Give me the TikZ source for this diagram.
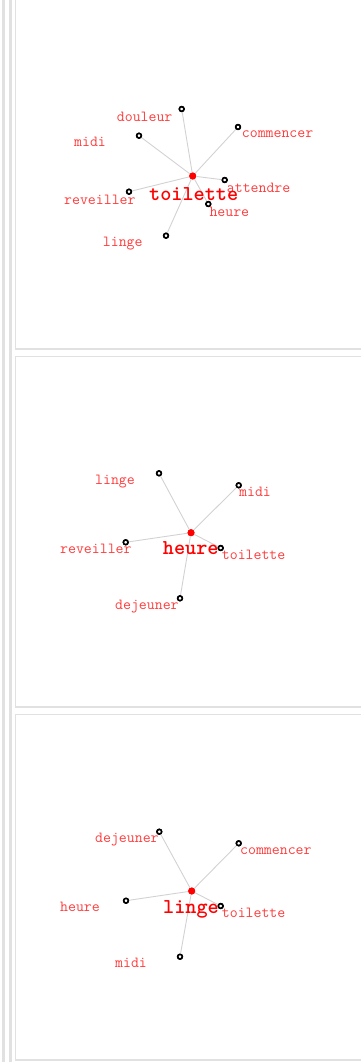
\documentclass[tikz,border=0pt]{standalone}
\definecolor{lblred}{RGB}{255,60,60}
\definecolor{ctrred}{RGB}{255,0,0}
\definecolor{edgegray}{RGB}{210,210,210}
\definecolor{framegray}{RGB}{225,225,225}
\begin{document}
\begin{tikzpicture}[x=1pt,y=-1pt,
  wnode/.style={circle,draw=black,fill=white,line width=1.6pt,minimum size=4.6pt,inner sep=0pt},
  cnode/.style={circle,fill=ctrred,minimum size=7pt,inner sep=0pt},
  lbl/.style={anchor=base west,inner sep=0pt,text=lblred,font=\ttfamily\fontsize{15.4}{16}\selectfont},
  clbl/.style={anchor=base west,inner sep=0pt,text=ctrred,font=\ttfamily\bfseries\fontsize{21.2}{22}\selectfont},
  link/.style={draw=edgegray,line width=0.9pt},
  frame/.style={draw=framegray,line width=1.6pt}]
\useasboundingbox (0,0) rectangle (360,1062);
% left bands and panel frames
\draw[framegray,line width=3pt] (3.5,-5) -- (3.5,1067);
\draw[framegray,line width=3pt] (10,-5) -- (10,1067);
\draw[frame] (370,349) -- (15.5,349) -- (15.5,-5);
\draw[frame] (370,356.5) -- (15.5,356.5) -- (15.5,707) -- (370,707);
\draw[frame] (370,714.5) -- (15.5,714.5) -- (15.5,1060) -- (370,1060);

% ---------- panel 1 ----------
\node[cnode] (c1) at (192.7,176) {};
\node[wnode] (p1a) at (181.7,109) {};
\node[wnode] (p1b) at (139,135.7) {};
\node[wnode] (p1c) at (238,127) {};
\node[wnode] (p1d) at (129,191.7) {};
\node[wnode] (p1e) at (224.7,180) {};
\node[wnode] (p1f) at (208.3,204) {};
\node[wnode] (p1g) at (166,235.7) {};
\foreach \n in {p1a,p1b,p1c,p1d,p1e,p1f,p1g} \draw[link] (c1) -- (\n);
\node[lbl] (l1a) at (116.7,121.3) {douleur};
\node[lbl] (l1b) at (74,146.3) {midi};
\node[lbl] (l1c) at (241.7,138) {commencer};
\node[lbl] (l1d) at (64,204) {reveiller};
\node[lbl] (l1e) at (226.7,192) {attendre};
\node[lbl] (l1f) at (209.3,216.3) {heure};
\node[lbl] (l1g) at (102.7,246.3) {linge};
\node[clbl] (t1) at (149,200) {toilette};
\node[cnode] at (c1) {};
\foreach \n in {p1a,p1b,p1c,p1d,p1e,p1f,p1g} \node[wnode] at (\n) {};

% ---------- panel 2 ----------
\node[cnode] (c2) at (191,532.7) {};
\node[wnode] (p2a) at (159,473.3) {};
\node[wnode] (p2b) at (238.7,485.3) {};
\node[wnode] (p2c) at (125.7,542.3) {};
\node[wnode] (p2d) at (220.7,548) {};
\node[wnode] (p2e) at (180,598.3) {};
\foreach \n in {p2a,p2b,p2c,p2d,p2e} \draw[link] (c2) -- (\n);
\node[lbl] (l2a) at (95,484.7) {linge};
\node[lbl] (l2b) at (239,496) {midi};
\node[lbl] (l2c) at (60,553.7) {reveiller};
\node[lbl] (l2d) at (221.7,559.7) {toilette};
\node[lbl] (l2e) at (115,609) {dejeuner};
\node[clbl] (t2) at (162.7,554.7) {heure};
\node[cnode] at (c2) {};
\foreach \n in {p2a,p2b,p2c,p2d,p2e} \node[wnode] at (\n) {};

% ---------- panel 3 ----------
\node[cnode] (c3) at (191.7,891) {};
\node[wnode] (p3a) at (159.3,831.7) {};
\node[wnode] (p3b) at (238.7,843.3) {};
\node[wnode] (p3c) at (126,900.7) {};
\node[wnode] (p3d) at (220.7,906) {};
\node[wnode] (p3e) at (180,956.7) {};
\foreach \n in {p3a,p3b,p3c,p3d,p3e} \draw[link] (c3) -- (\n);
\node[lbl] (l3a) at (95,842.3) {dejeuner};
\node[lbl] (l3b) at (240,854.7) {commencer};
\node[lbl] (l3c) at (60,911.3) {heure};
\node[lbl] (l3d) at (221.7,917) {toilette};
\node[lbl] (l3e) at (115,967.3) {midi};
\node[clbl] (t3) at (163,913.3) {linge};
\node[cnode] at (c3) {};
\foreach \n in {p3a,p3b,p3c,p3d,p3e} \node[wnode] at (\n) {};
\end{tikzpicture}
\end{document}
